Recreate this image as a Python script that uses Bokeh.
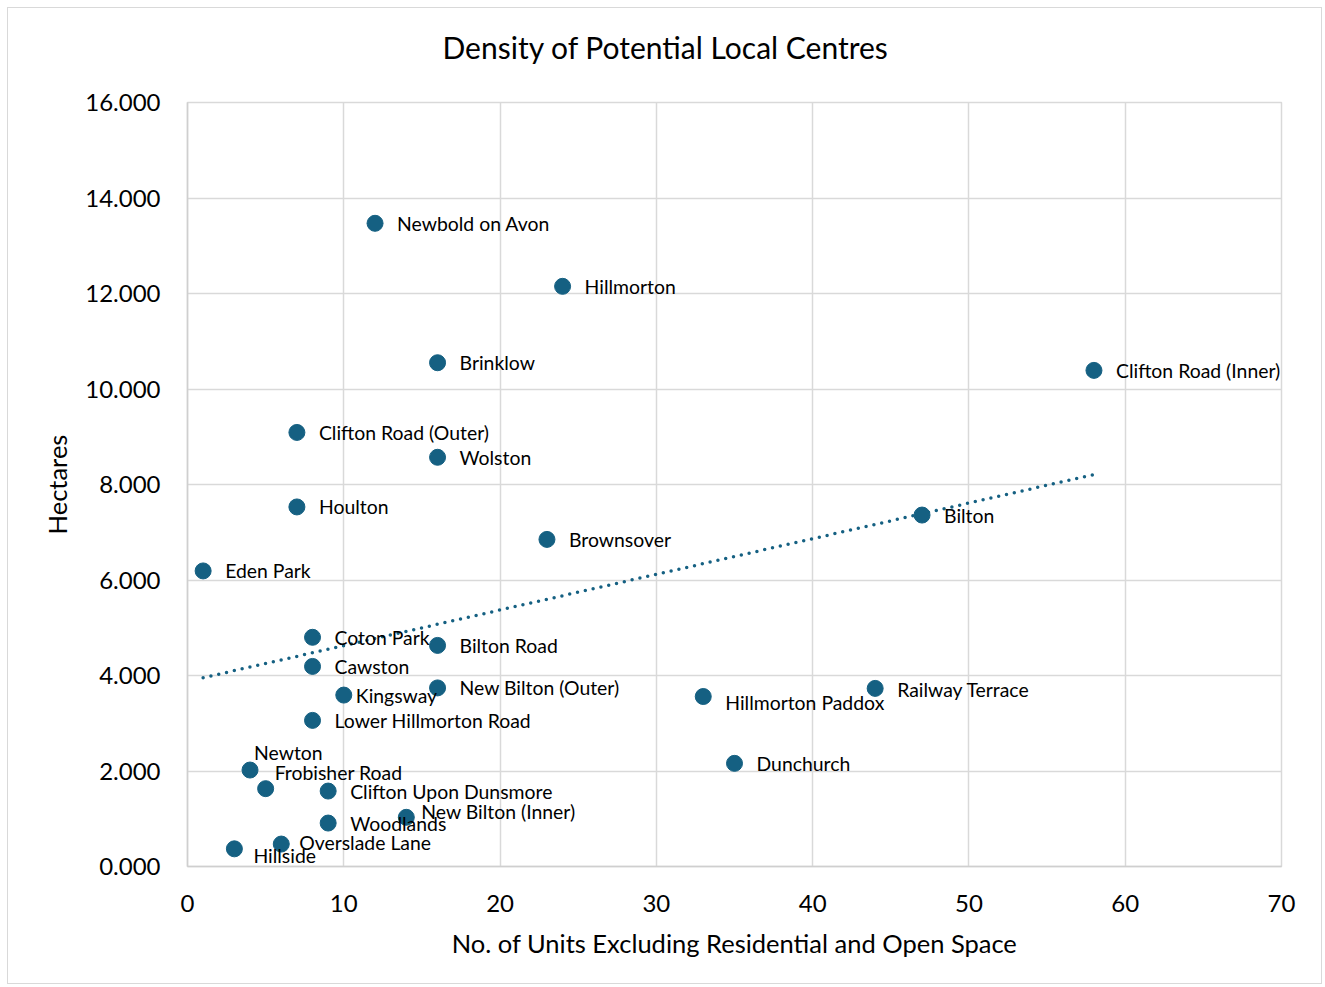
import numpy as np
from bokeh.plotting import figure
from bokeh.models import (ColumnDataSource, Range1d, FixedTicker,
                          CustomJSTickFormatter, LinearAxis)
from bokeh.core.properties import value
from bokeh.embed import file_html
from bokeh.resources import INLINE

# ---- data ----
names = ["Newbold on Avon", "Hillmorton", "Brinklow", "Clifton Road (Inner)",
         "Clifton Road (Outer)", "Wolston", "Houlton", "Bilton", "Brownsover",
         "Eden Park", "Coton Park", "Bilton Road", "Cawston", "Kingsway",
         "New Bilton (Outer)", "Hillmorton Paddox", "Railway Terrace",
         "Lower Hillmorton Road", "Dunchurch", "Newton", "Frobisher Road",
         "Clifton Upon Dunsmore", "New Bilton (Inner)", "Woodlands",
         "Overslade Lane", "Hillside"]
units = [12, 24, 16, 58, 7, 16, 7, 47, 23, 1, 8, 16, 8, 10, 16, 33, 44, 8, 35,
         4, 5, 9, 14, 9, 6, 3]
hectares = [13.47, 12.15, 10.55, 10.39, 9.09, 8.57, 7.53, 7.36, 6.85, 6.19,
            4.80, 4.63, 4.19, 3.59, 3.74, 3.56, 3.73, 3.06, 2.16, 2.02, 1.63,
            1.58, 1.03, 0.91, 0.47, 0.37]
x_ticks = [0, 10, 20, 30, 40, 50, 60, 70]
y_ticks = [0, 2, 4, 6, 8, 10, 12, 14, 16]

# label placement nudges (screen px; dy positive = down)
default_dx = 22
nudges = {
    "Kingsway": (12, 0),
    "Hillmorton Paddox": (22, 6),
    "Newton": (4, -18),
    "Frobisher Road": (9, -16),
    "New Bilton (Inner)": (15, -6),
    "Overslade Lane": (18, -2),
    "Hillside": (19, 7),
    "Railway Terrace": (22, 1),
}
dxs = [nudges.get(n, (default_dx, 0))[0] for n in names]
dys = [nudges.get(n, (default_dx, 0))[1] for n in names]

FONT = "Lato"
ACCENT = "#156082"
GRID = "#d9d9d9"

p = figure(width=1315, height=977, output_backend="svg", toolbar_location=None,
           x_range=Range1d(0, 70), y_range=Range1d(0, 16),
           min_border_left=179, min_border_right=42, min_border_top=94,
           min_border_bottom=119)
p.margin = (7, 0, 0, 7)
p.styles = {"border": "1px solid #d9d9d9"}
p.background_fill_color = "white"
p.border_fill_color = "white"
p.outline_line_color = GRID
p.outline_line_width = 1.5

# invisible spacer axis above the frame (pushes the title upward):
# one hidden tick, no drawn tick line and no drawn labels
spacer = LinearAxis(ticker=FixedTicker(ticks=[35], minor_ticks=[]),
                    axis_line_color=None,
                    major_tick_line_color=None, minor_tick_line_color=None,
                    major_tick_out=32, minor_tick_out=0, major_tick_in=0,
                    major_label_standoff=0, major_label_text_color=None)
p.add_layout(spacer, "above")

p.title.text = "Density of Potential Local Centres"
p.title.align = "left"
p.title.offset = 255
p.title.vertical_align = "top"
p.title.standoff = 7
p.title.text_font = FONT
p.title.text_font_size = "30px"
p.title.text_font_style = "normal"
p.title.text_color = "black"

p.xgrid.grid_line_color = GRID
p.ygrid.grid_line_color = GRID
p.xgrid.grid_line_width = 1.5
p.ygrid.grid_line_width = 1.5

xa = p.below[0]
ya = p.left[0]
xa.ticker = FixedTicker(ticks=x_ticks)
ya.ticker = FixedTicker(ticks=y_ticks)
ya.formatter = CustomJSTickFormatter(code="return tick.toFixed(3);")

for ax in (xa, ya):
    ax.axis_line_color = "#cfcfcf"
    ax.axis_line_width = 1.5
    ax.major_tick_line_color = None
    ax.minor_tick_line_color = None
    ax.major_label_text_font = FONT
    ax.major_label_text_font_size = "24px"
    ax.major_label_text_color = "black"
    ax.axis_label_text_font = FONT
    ax.axis_label_text_font_size = "25.5px"
    ax.axis_label_text_font_style = "normal"
    ax.axis_label_text_color = "black"

xa.axis_label = "No. of Units Excluding Residential and Open Space"
ya.axis_label = "Hectares"
xa.major_label_standoff = 22
xa.axis_label_standoff = 13
ya.major_label_standoff = 21
ya.axis_label_standoff = 10

# trendline (linear least squares)
coef = np.polyfit(units, hectares, 1)
tx = [min(units), max(units)]
ty = [coef[0] * v + coef[1] for v in tx]
p.line(tx, ty, line_color=ACCENT, line_width=3.5, line_dash="0 8",
       line_cap="round")

src = ColumnDataSource(dict(x=units, y=hectares, name=names, dx=dxs, dy=dys))
p.scatter("x", "y", source=src, size=16, fill_color=ACCENT, line_color=ACCENT)
p.text("x", "y", text="name", source=src, x_offset="dx", y_offset="dy",
       text_font=value(FONT), text_font_size="19.4px", text_color="black",
       text_align="left", text_baseline="middle")

open("out.html", "w").write(file_html(p, INLINE))
